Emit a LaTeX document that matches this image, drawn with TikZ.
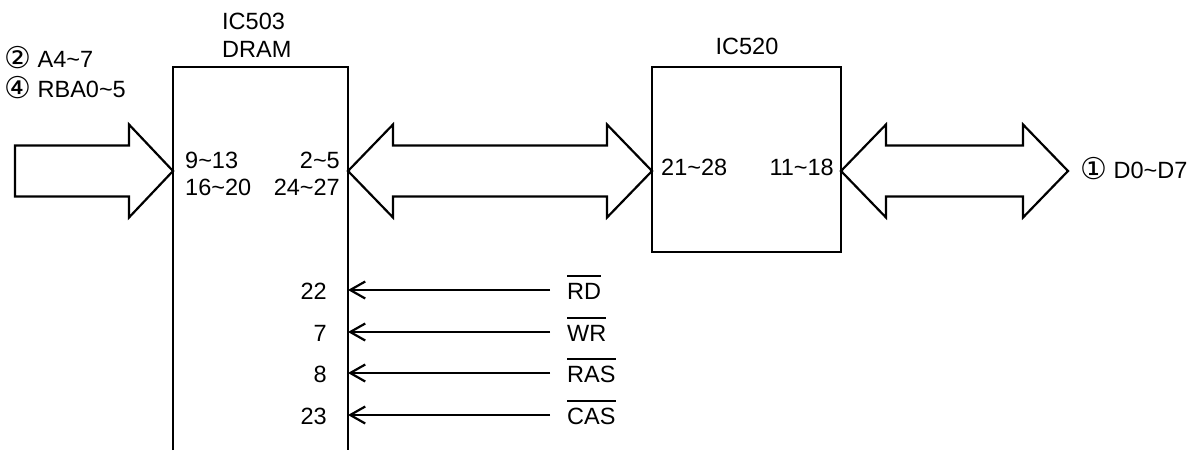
\documentclass[tikz,border=0pt]{standalone}
\usepackage{fontspec}
\setmainfont{Liberation Sans}
\newfontfamily\symfont{DejaVu Sans}
\usetikzlibrary{arrows.meta,positioning,calc}

\newcommand\tld{\textasciitilde}
\newcommand\circd[1]{{\symfont\fontsize{30}{30}\selectfont\raisebox{-1pt}{#1}}}
\newcommand\ovl[1]{\setbox0\hbox{#1}\rlap{\rule[22pt]{\wd0}{2pt}}\box0}

% block arrows: one head / two heads
\newcommand\busone[2]{\path[bus] let \p1=(#1), \p2=(#2) in
  (\x1,\y1+25.5pt) -- (\x2-44pt,\y1+25.5pt) -- (\x2-44pt,\y1+46.5pt) -- (\x2,\y1)
  -- (\x2-44pt,\y1-46.5pt) -- (\x2-44pt,\y1-25.5pt) -- (\x1,\y1-25.5pt) -- cycle;}
\newcommand\busboth[2]{\path[bus] let \p1=(#1), \p2=(#2) in
  (\x1,\y1) -- (\x1+45pt,\y1+46.5pt) -- (\x1+45pt,\y1+25.5pt) -- (\x2-45pt,\y1+25.5pt)
  -- (\x2-45pt,\y1+46.5pt) -- (\x2,\y1) -- (\x2-45pt,\y1-46.5pt) -- (\x2-45pt,\y1-25.5pt)
  -- (\x1+45pt,\y1-25.5pt) -- (\x1+45pt,\y1-46.5pt) -- cycle;}

\begin{document}
\begin{tikzpicture}[x=1pt, y=-1pt,
    chip/.style={rectangle, inner sep=0pt, outer sep=0pt, line width=2.2pt},
    bus/.style={draw, line width=2.2pt, fill=white, line join=miter},
    sig/.style={line width=2.2pt, -{Straight Barb[length=15pt, width=17pt, line width=2.2pt]}},
    lbl/.style={inner sep=0pt, font=\fontsize{23.5}{28}\selectfont}]

\useasboundingbox (0,0) rectangle (1196,450);

% chips
\node[chip, minimum width=175, minimum height=383, anchor=north west] (dram) at (173,67) {};
\draw[line width=2.2pt] (dram.south west) |- (dram.north east) -- (dram.south east);
\node[chip, draw, minimum width=189, minimum height=185, anchor=north west] (ic520) at (652,67) {};

\node[lbl, anchor=base west] (ic503t) at (222,29) {IC503};
\node[lbl, anchor=base west] (dramt) at (222,57) {DRAM};
\node[lbl, anchor=base] (ic520t) at (747,54) {IC520};

% buses
\coordinate (ain) at (15,171);
\coordinate (dout) at (1068,171);
\busone{ain}{dram.west |- ain}
\busboth{dram.east |- ain}{ic520.west |- ain}
\busboth{ic520.east |- ain}{dout}

\node[lbl, anchor=base west] (sa) at (4,67) {\circd{②} A4\tld7};
\node[lbl, anchor=base west] (sb) at (4,97) {\circd{④} RBA0\tld5};
\node[lbl, anchor=base west] (sd) at (1080,178) {\circd{①} D0\tld D7};

% pin numbers
\node[lbl, anchor=base west] (a913) at (185,168) {9\tld13};
\node[lbl, anchor=base west] (a1620) at (185,195) {16\tld20};
\node[lbl, anchor=base east] (d25) at (340,168) {2\tld5};
\node[lbl, anchor=base east] (d2427) at (340,195) {24\tld27};
\node[lbl, anchor=base west] (p2128) at (661,175) {21\tld28};
\node[lbl, anchor=base east] (p1118) at (834,175) {11\tld18};

% control signals
\foreach \y/\pin/\sname/\txt in {290/22/rd/RD, 332/7/wr/WR, 373/8/ras/RAS, 415/23/cas/CAS}{
  \coordinate (\sname tail) at (550,\y);
  \node[lbl, anchor=base west] (\sname) at (567,\y+9) {\ovl{\txt}};
  \node[lbl, anchor=base east] (pin\sname) at (327,\y+9) {\pin};
  \draw[sig] (\sname tail) -- (dram.east |- \sname tail);
}
\end{tikzpicture}
\end{document}
